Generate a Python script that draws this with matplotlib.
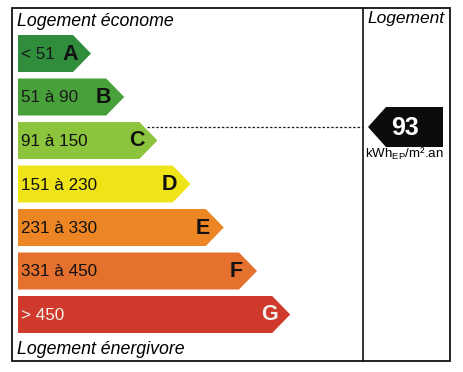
import matplotlib
matplotlib.use("Agg")
import matplotlib.pyplot as plt
from matplotlib.patches import Polygon, Rectangle

plt.rcParams['font.family'] = ['Liberation Sans', 'DejaVu Sans']

# DPE classes
classes = ["A", "B", "C", "D", "E", "F", "G"]
ranges = ["< 51", "51 à 90", "91 à 150", "151 à 230", "231 à 330", "331 à 450", "> 450"]
upper = [50, 90, 150, 230, 330, 450, None]
value = 93
unit = "kWh$_{\\mathregular{EP}}$/m².an"

colors = ["#2f8d3c", "#47a03a", "#8cc43e", "#efe418", "#ec8625", "#e5712f", "#cf3a2c"]
range_col = ["#1a1a1a", "#1a1a1a", "#111111", "#111111", "#111111", "#111111", "#f4f0ea"]
letter_col = ["#111111"] * 6 + ["#f4f0ea"]

# which class the value falls in
cls = next(i for i, u in enumerate(upper) if u is None or value <= u)

fig = plt.figure(figsize=(4.63, 3.72), dpi=100)
ax = fig.add_axes([0, 0, 1, 1])
ax.set_xlim(0, 463)
ax.set_ylim(372, 0)
ax.axis("off")

# frame
ax.add_patch(Rectangle((12, 8), 438, 353, fill=False, lw=1.3, ec="#111"))
ax.plot([363, 363], [8, 361], color="#111", lw=1.2)

x0, top0, pitch, h = 18, 35, 43.5, 37
for i, c in enumerate(classes):
    top = top0 + i * pitch
    tip = 91 + i * 33.2
    pts = [(x0, top), (tip - 18, top), (tip, top + h / 2), (tip - 18, top + h), (x0, top + h)]
    ax.add_patch(Polygon(pts, closed=True, fc=colors[i], ec="none"))
    ax.text(x0 + 3, top + h / 2 + 1, ranges[i], fontsize=12.3, color=range_col[i],
            va="center", ha="left")
    ax.text(tip - 21, top + h / 2 + 0.5, c, fontsize=15.5, fontweight="bold", color=letter_col[i],
            va="center", ha="center")

ax.text(17, 21, "Logement économe", fontsize=12.8, style="italic", va="center", ha="left")
ax.text(17, 349, "Logement énergivore", fontsize=12.8, style="italic", va="center", ha="left")
ax.text(406, 18, "Logement", fontsize=12.5, style="italic", va="center", ha="center")

# marker for the dwelling
ctop = top0 + cls * pitch
ctip = 91 + cls * 33.2
ay = 127
ax.plot([ctip - 10, 363], [ay, ay], color="#222", lw=0.9, ls=(0, (2, 1.5)))
apts = [(368, ay), (386, 107), (443, 107), (443, 147), (386, 147)]
ax.add_patch(Polygon(apts, closed=True, fc="#0c0c0c", ec="none"))
ax.text(405, ay + 1, str(value), fontsize=18, fontweight="bold", color="white",
        va="center", ha="center")
ax.text(404, 154, unit, fontsize=9.6, va="center", ha="center")

fig.savefig("out.png", dpi=100)
